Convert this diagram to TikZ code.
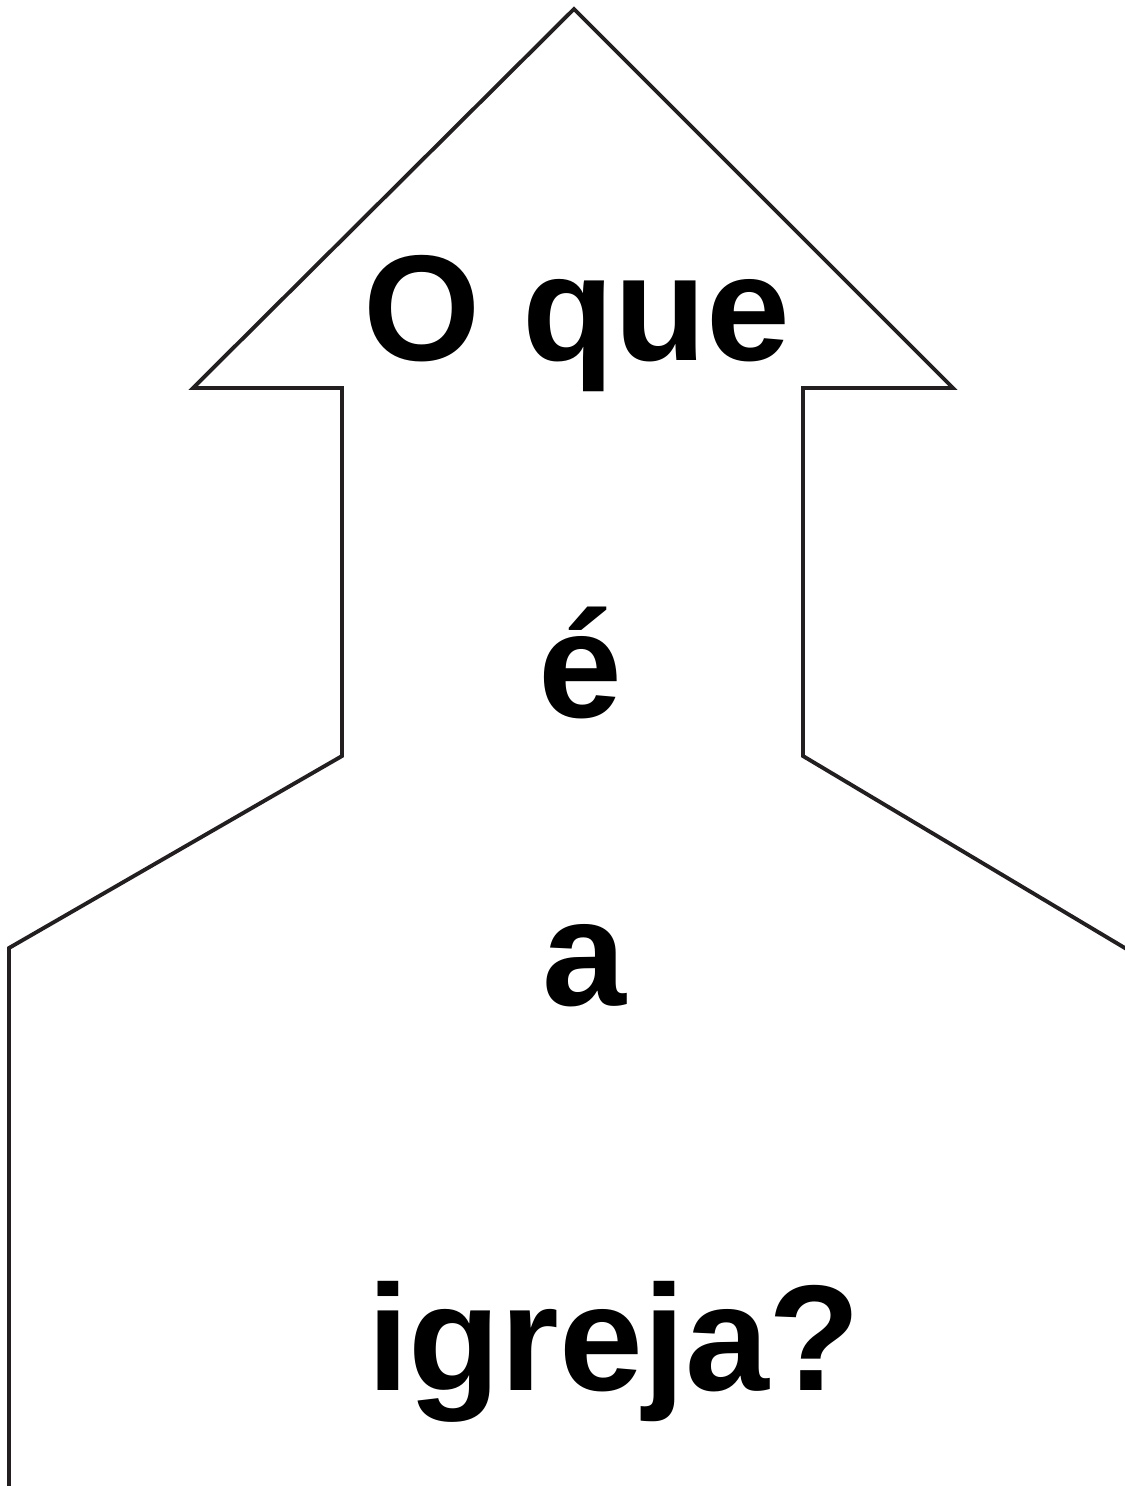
\documentclass[tikz,border=0pt]{standalone}
\usepackage{fontspec}
\setmainfont{Liberation Sans}
\usepackage{tikz}
\usetikzlibrary{positioning}

\definecolor{outline}{HTML}{231F20}

\begin{document}
\begin{tikzpicture}[
    x=0.75pt, y=-0.75pt,
    church/.style={draw=outline, line width=2.9pt, line join=miter},
    word/.style={anchor=base, font=\fontsize{113}{130}\selectfont\bfseries,
                 inner sep=0pt},
  ]
  \useasboundingbox (0,0) rectangle (1125,1486);

  % outline of the church
  \begin{scope}
    \clip (0,0) rectangle (1125,1486);
    \draw[church] (9,1500) -- (9,948) -- (342,756) -- (342,388)
      -- (193,388) -- (574,9) -- (953,388) -- (803,388)
      -- (803,756) -- (1140,957);
  \end{scope}

  % question
  \node[word] (oque)   at (577,360)  {O que};
  \node[word] (eacute) at (580,717)  {é};
  \node[word] (artigo) at (584,1005) {a};
  \node[word] (igreja) at (614,1390) {igreja?};

\end{tikzpicture}
\end{document}
